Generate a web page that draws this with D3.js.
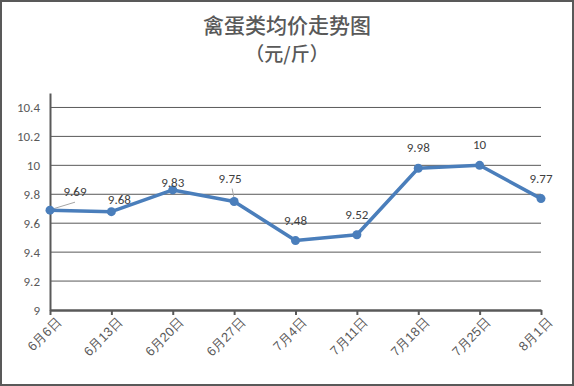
<!doctype html>
<html>
<head>
<meta charset="UTF-8">
<title>禽蛋类均价走势图</title>
<script src="https://cdn.jsdelivr.net/npm/d3@7/dist/d3.min.js"></script>
<style>
body { margin: 0; }
svg { font-family: "Noto Sans CJK SC", "Microsoft YaHei", sans-serif; }
</style>
</head>
<body>
<script>
var dates = ["6月6日", "6月13日", "6月20日", "6月27日", "7月4日", "7月11日", "7月18日", "7月25日", "8月1日"];
var prices = [9.69, 9.68, 9.83, 9.75, 9.48, 9.52, 9.98, 10, 9.77];
var yTicks = [9, 9.2, 9.4, 9.6, 9.8, 10, 10.2, 10.4];
// label offsets from the point (Excel-like placement)
var labelDx = [25, 8, 0, -4, 0, 0, 0, 0, 0];
var labelDy = [-14, -8, -3, -19, -16, -16, -16, -16, -16];

var w = 574, h = 386;
var margin = {top: 93, right: 33, bottom: 76, left: 50};

var svg = d3.select("body").append("svg")
  .attr("width", w).attr("height", h);

svg.append("rect")
  .attr("x", 1).attr("y", 1).attr("width", w - 2).attr("height", h - 2)
  .attr("fill", "#fff").attr("stroke", "#595959").attr("stroke-width", 2);

var xScale = d3.scalePoint()
  .domain(dates)
  .range([margin.left, w - margin.right]);

var yScale = d3.scaleLinear()
  .domain([9, 10.5])
  .range([h - margin.bottom, margin.top]);

// gridlines
svg.append("g")
  .selectAll("line")
  .data(yTicks.slice(1))
  .enter().append("line")
  .attr("x1", margin.left).attr("x2", w - margin.right)
  .attr("y1", function(d) { return yScale(d); })
  .attr("y2", function(d) { return yScale(d); })
  .attr("stroke", "#595959").attr("stroke-width", 1);

// y axis
var gy = svg.append("g")
  .attr("transform", "translate(" + margin.left + ",0)")
  .call(d3.axisLeft(yScale).tickValues(yTicks).tickSize(0).tickPadding(10).tickFormat(d3.format("")));
gy.select(".domain").attr("stroke", "#595959").attr("stroke-width", 2);
gy.selectAll(".tick text").attr("fill", "#595959").attr("font-size", "13px")
  .attr("font-family", "Calibri, 'Liberation Sans', sans-serif");

// x axis
var gx = svg.append("g")
  .attr("transform", "translate(0," + (h - margin.bottom) + ")")
  .call(d3.axisBottom(xScale).tickSize(5).tickSizeOuter(0));
gx.select(".domain").attr("stroke", "#595959").attr("stroke-width", 2.5);
gx.selectAll(".tick line").attr("stroke", "#595959").attr("stroke-width", 2);
gx.selectAll(".tick text")
  .attr("fill", "#595959").attr("font-size", "13px")
  .attr("text-anchor", "end")
  .attr("transform", "translate(8,10) rotate(-45)")
  .attr("x", 0).attr("y", 0).attr("dy", "0.35em");

// leader lines
var leaders = [0, 3];
svg.append("g").selectAll("line")
  .data(leaders)
  .enter().append("line")
  .attr("x1", function(i) { return xScale(dates[i]) + (i === 0 ? 2 : 0); })
  .attr("y1", function(i) { return yScale(prices[i]) - (i === 0 ? 1 : 3); })
  .attr("x2", function(i) { return xScale(dates[i]) + (i === 0 ? 25 : -2); })
  .attr("y2", function(i) { return yScale(prices[i]) + (i === 0 ? -8 : -13); })
  .attr("stroke", "#a6a6a6").attr("stroke-width", 1);

// line
svg.append("path")
  .datum(prices)
  .attr("fill", "none")
  .attr("stroke", "#4a7ebb")
  .attr("stroke-width", 3.5)
  .attr("stroke-linejoin", "round")
  .attr("d", d3.line()
    .x(function(d, i) { return xScale(dates[i]); })
    .y(function(d) { return yScale(d); }));

svg.append("g").selectAll("circle")
  .data(prices)
  .enter().append("circle")
  .attr("cx", function(d, i) { return xScale(dates[i]); })
  .attr("cy", function(d) { return yScale(d); })
  .attr("r", 4.5)
  .attr("fill", "#4a7ebb");

// value labels
svg.append("g").selectAll("text")
  .data(prices)
  .enter().append("text")
  .attr("x", function(d, i) { return xScale(dates[i]) + labelDx[i]; })
  .attr("y", function(d, i) { return yScale(d) + labelDy[i]; })
  .attr("text-anchor", "middle")
  .attr("font-size", "13px")
  .attr("font-family", "Calibri, 'Liberation Sans', sans-serif")
  .attr("fill", "#404040")
  .text(function(d) { return d; });

// title
svg.append("text")
  .attr("x", w / 2).attr("y", 33)
  .attr("text-anchor", "middle")
  .attr("font-size", "21px").attr("font-weight", 500).attr("fill", "#595959")
  .text("禽蛋类均价走势图");
svg.append("text")
  .attr("x", w / 2).attr("y", 61)
  .attr("text-anchor", "middle")
  .attr("font-size", "19px").attr("font-weight", 500).attr("fill", "#595959")
  .text("（元/斤）");
</script>
</body>
</html>
